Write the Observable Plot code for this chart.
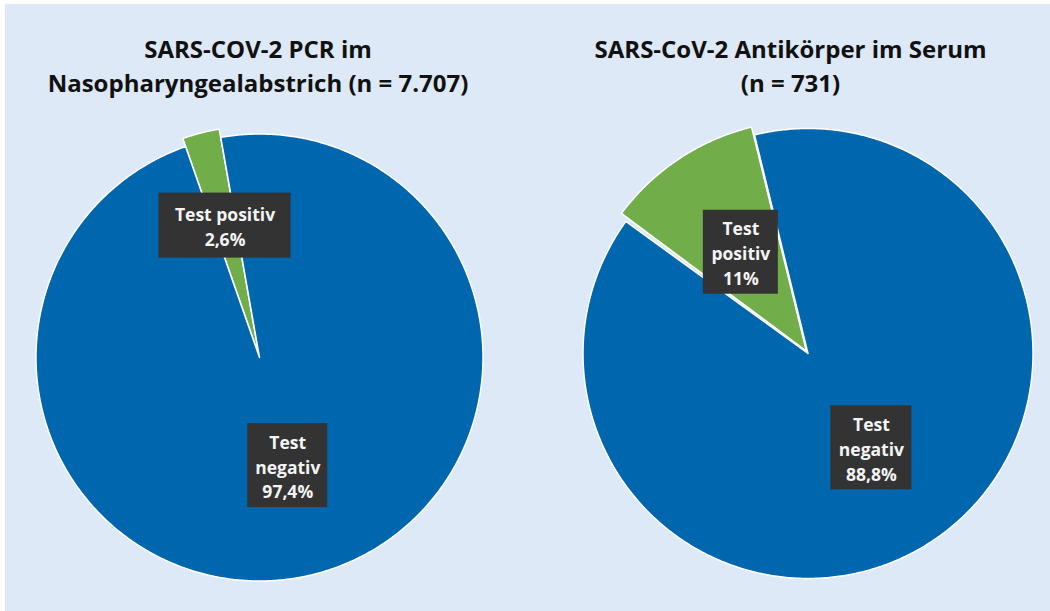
<!DOCTYPE html>
<html><head><meta charset="utf-8">
<script src="https://cdn.jsdelivr.net/npm/d3@7"></script>
<script src="https://cdn.jsdelivr.net/npm/@observablehq/plot@0.6"></script>
<style>
html,body{margin:0;padding:0;background:#ffffff;}
#chart{position:absolute;left:5px;top:4px;}
</style></head><body><div id="chart"></div>
<script>
// ---- data ----
const chartTitles = ["SARS-COV-2 PCR im\nNasopharyngealabstrich (n = 7.707)", "SARS-CoV-2 Antikörper im Serum\n(n = 731)"];
const categories = ["Test positiv", "Test negativ"];
const pcrValues = [2.6, 97.4];          // percent
const antibodyValues = [11, 88.8];      // percent
const categoryLabelLines = [
  ["Test positiv", "Test\nnegativ"],
  ["Test\npositiv", "Test\nnegativ"]
];
const seriesValues = [pcrValues, antibodyValues];

// ---- layout (pixels) ----
const W = 1045, H = 607;
const pieLayout = [
  {cx: 254, cy: 353, r: 223.5, start: -19.33, explode: [2, 0], grow: [6.5, 0], titleX: 252.5},
  {cx: 802.5, cy: 349, r: 225, start: -53.35, explode: [3, 0], grow: [5.5, 0], titleX: 785}
];
const labelLayout = [
  [{rf: 0.61, w: 132, h: 65}, {rf: 0.5, w: 80, h: 84}],
  [{rf: 0.54, w: 75, h: 84}, {rf: 0.505, w: 81, h: 84}]
];
const titleY = 60;
const colors = ["#71ad48", "#0066ae"];
const font = "'Open Sans', 'DejaVu Sans', sans-serif";

// ---- build geometry from data ----
const rad = d => d * Math.PI / 180;
const fmt = v => String(v).replace(".", ",") + "%";
const slicePts = [];
const labels = [];
seriesValues.forEach((vals, p) => {
  const L = pieLayout[p];
  let a = L.start;
  vals.forEach((v, i) => {
    const span = v / 100 * 360;
    const a0 = a, a1 = a + span, mid = (a0 + a1) / 2;
    const e = L.explode[i], R = L.r + L.grow[i];
    const ox = L.cx + e * Math.sin(rad(mid)), oy = L.cy - e * Math.cos(rad(mid));
    const id = p + "-" + i;
    slicePts.push({id, cat: categories[i], x: ox, y: oy});
    const n = Math.max(2, Math.ceil(span / 0.5));
    for (let k = 0; k <= n; k++) {
      const t = rad(a0 + span * k / n);
      slicePts.push({id, cat: categories[i], x: ox + R * Math.sin(t), y: oy - R * Math.cos(t)});
    }
    slicePts.push({id, cat: categories[i], x: ox, y: oy});
    const ll = labelLayout[p][i];
    const lx = L.cx + ll.rf * L.r * Math.sin(rad(mid));
    const ly = L.cy - ll.rf * L.r * Math.cos(rad(mid));
    labels.push({x: lx, y: ly, w: ll.w, h: ll.h, text: categoryLabelLines[p][i] + "\n" + fmt(v)});
    a = a1;
  });
});
const titles = chartTitles.map((t, p) => ({x: pieLayout[p].titleX, y: titleY, text: t}));

const chart = Plot.plot({
  width: W, height: H, margin: 0,
  x: {domain: [0, W], range: [0, W], axis: null},
  y: {domain: [0, H], range: [0, H], axis: null},
  color: {domain: categories, range: colors},
  style: {background: "#dde9f6", fontFamily: font},
  marks: [
    Plot.line(slicePts, {x: "x", y: "y", z: "id", fill: "cat", stroke: "white", strokeWidth: 1.5, curve: "linear"}),
    Plot.rect(labels, {x1: d => d.x - d.w / 2, x2: d => d.x + d.w / 2, y1: d => d.y - d.h / 2, y2: d => d.y + d.h / 2, fill: "#333333"}),
    Plot.text(labels, {x: "x", y: "y", text: "text", fill: "#f4f4f4", fontSize: 17.5, fontWeight: "bold", lineHeight: 1.42, fontFamily: font}),
    Plot.text(titles, {x: "x", y: "y", text: "text", fill: "#111111", fontSize: 24, fontWeight: "bold", lineHeight: 1.42, fontFamily: font})
  ]
});
document.getElementById("chart").appendChild(chart);
</script>
</body></html>
